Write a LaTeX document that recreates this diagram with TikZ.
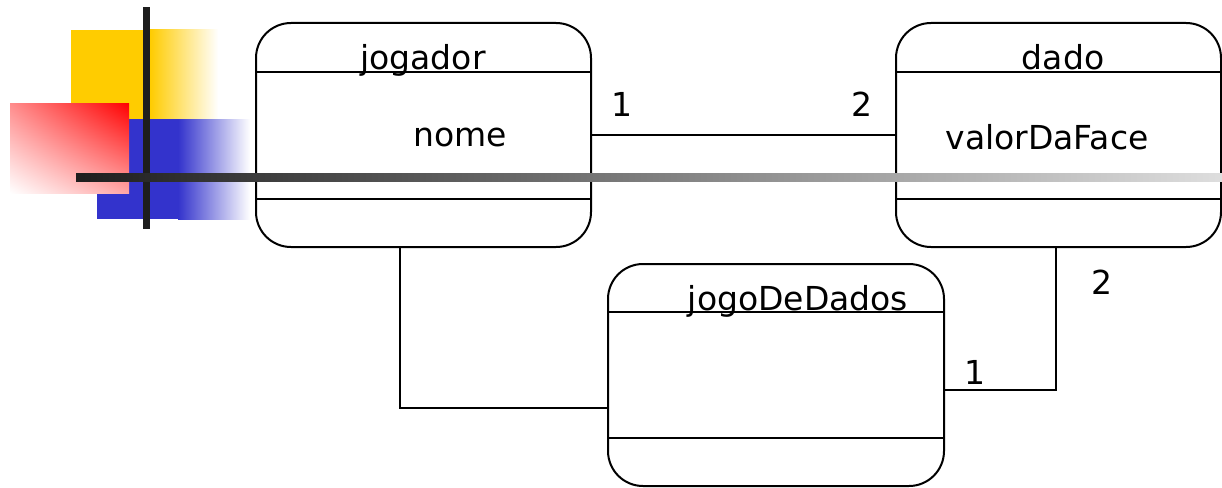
\documentclass[tikz,border=0pt]{standalone}
\usepackage{fontspec}
\setmainfont{DejaVu Sans}
\usetikzlibrary{shadings}
\definecolor{myyellow}{HTML}{FFCC00}
\definecolor{myblue}{HTML}{3333CC}
\definecolor{bardark}{HTML}{1E1E1E}
\begin{document}
\begin{tikzpicture}[x=1pt,y=-1pt,
  umlbox/.style={draw=black,line width=2pt,rounded corners=35pt,minimum height=224pt,inner sep=0pt},
  divider/.style={line width=2pt},
  conn/.style={line width=2pt},
  lbl/.style={font=\fontsize{33}{38}\selectfont,inner sep=0pt},
  ttl/.style={lbl,anchor=base}]
\useasboundingbox (0,0) rectangle (1222,487);
% decoration
\fill[myyellow] (71,30) rectangle (150,119);
\shade[left color=myyellow,right color=white] (150,30) rectangle (218,119);
\fill[myblue] (97,119) rectangle (178,219);
\shade[left color=myblue,right color=white] (178,119) rectangle (250,219);
\shade[upper right=red,upper left=red!45,lower right=red!35,lower left=white] (10,103) rectangle (129,193);
\fill[bardark] (143,7) rectangle (150,229);
% boxes
\node[umlbox,minimum width=335pt] (jogador) at (423.5,135) {};
\node[umlbox,minimum width=325pt] (dado) at (1058.5,135) {};
\node[umlbox,minimum width=336pt,minimum height=222pt] (jogo) at (776,375) {};
\draw[divider] (jogador.west |- 0,72) -- (jogador.east |- 0,72);
\draw[divider] (jogador.west |- 0,199) -- (jogador.east |- 0,199);
\draw[divider] (dado.west |- 0,72) -- (dado.east |- 0,72);
\draw[divider] (dado.west |- 0,199) -- (dado.east |- 0,199);
\draw[divider] (jogo.west |- 0,312) -- (jogo.east |- 0,312);
\draw[divider] (jogo.west |- 0,438) -- (jogo.east |- 0,438);
% texts
\node[ttl] (tjogador) at (423,70) {jogador};
\node[ttl] (tdado) at (1063,70) {dado};
\node[ttl] (tjogo) at (798,310) {jogoDeDados};
\node[lbl] (nome) at (460,137) {nome};
\node[lbl] (valor) at (1047,137) {valorDaFace};
% connectors
\draw[conn] (jogador) -- (dado);
\draw[conn] ([xshift=-23.5pt]jogador.south) |- ([yshift=-32.5pt]jogo.west);
\draw[conn] ([xshift=-2.5pt]dado.south) |- ([yshift=-15pt]jogo.east);
\node[lbl] (m1) at (622,104) {1};
\node[lbl] (m2) at (862,104) {2};
\node[lbl] (m3) at (1102,282) {2};
\node[lbl] (m4) at (975,372) {1};
% horizontal bar on top
\shade[left color=bardark,right color=black!13] (76,173) rectangle (1222,181);
\end{tikzpicture}
\end{document}
